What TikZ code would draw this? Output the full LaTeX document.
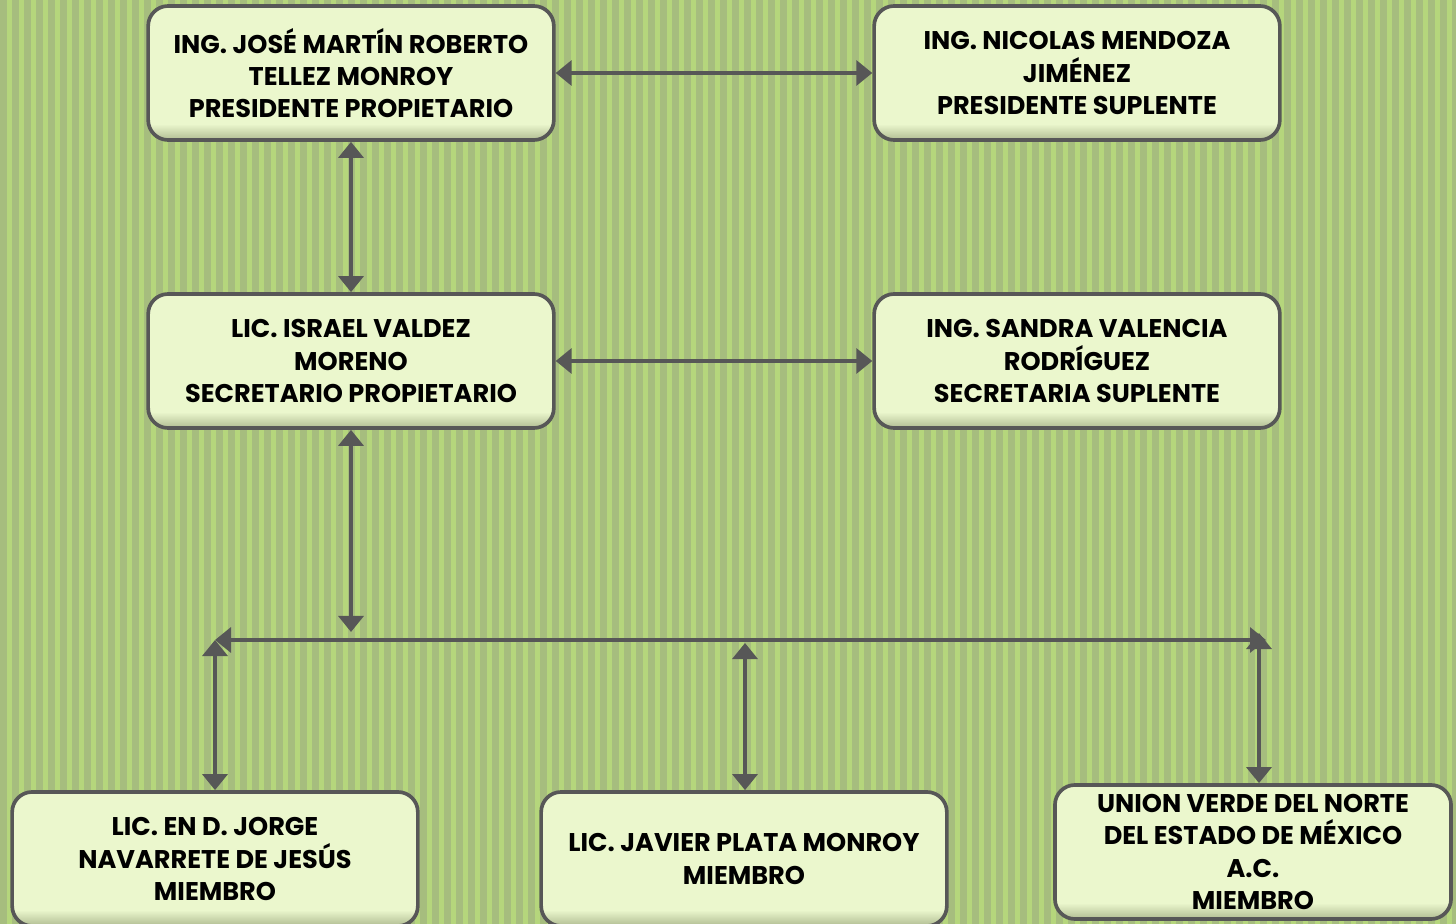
\documentclass[tikz,border=0pt]{standalone}
\usepackage{fontspec}
\setmainfont{Poppins}
\usepackage{xcolor}
\usetikzlibrary{arrows.meta,
	positioning}

\definecolor{fondoclaro}{RGB}{181,214,124}
\definecolor{fondoosc}{RGB}{166,189,126}
\definecolor{cajafill}{RGB}{235,247,205}
\definecolor{cajasombra}{RGB}{176,188,146}
\definecolor{linea}{RGB}{87,87,87}

\pgfdeclareverticalshading{cajashade}{100bp}{color(0bp)=(cajasombra); color(25bp)=(cajasombra); color(31bp)=(cajafill); color(100bp)=(cajafill)}

\tikzset{
	cargo/.style={draw=linea, line width=2.6pt, rounded corners=0.5cm,
		shade, shading=cajashade, minimum width=10.14cm, minimum height=3.35cm,
		align=center, text=black, font=\bfseries\fontsize{18.2}{22.8}\selectfont},
	enlace/.style={draw=linea, line width=3.2pt,
		{Triangle[length=0.4cm,width=0.62cm]}-{Triangle[length=0.4cm,width=0.62cm]}}
}

\begin{document}
\begin{tikzpicture}[x=0.025cm, y=-0.025cm]
        \useasboundingbox (0,0) rectangle (1456,924);

        %fondo rayado
        \fill[fondoclaro] (0,0) rectangle (1456,924);
        \foreach \i in {0,12,...,1452}
            \fill[fondoosc] (\i,0) rectangle ++(6.5,924);

        %presidentes
        \node[cargo] (presP) at (351,73) {ING. JOSÉ MARTÍN ROBERTO\\TELLEZ MONROY\\PRESIDENTE PROPIETARIO};
        \node[cargo] (presS) at (1077,73) {ING. NICOLAS MENDOZA\\JIMÉNEZ\\PRESIDENTE SUPLENTE};

        %secretarios
        \node[cargo] (secP) at (351,361) {LIC. ISRAEL VALDEZ\\MORENO\\SECRETARIO PROPIETARIO};
        \node[cargo] (secS) at (1077,361) {ING. SANDRA VALENCIA\\RODRÍGUEZ\\SECRETARIA SUPLENTE};

        %miembros
        \node[cargo] (miem1) at (215,859) {LIC. EN D. JORGE\\NAVARRETE DE JESÚS\\MIEMBRO};
        \node[cargo] (miem2) at (744,859) {LIC. JAVIER PLATA MONROY\\MIEMBRO};
        \node[cargo, minimum width=9.9cm] (miem3) at (1253,852) {UNION VERDE DEL NORTE\\DEL ESTADO DE MÉXICO\\A.C.\\MIEMBRO};

        \coordinate (busL) at (215,640);
        \coordinate (busR) at (1266,640);
        \coordinate (bajaSec) at (351,632);
        \coordinate (subeM2) at (745,643);
        \coordinate (subeM3) at (1259,633);

        \draw[enlace] (presP) -- (presS);
        \draw[enlace] (presP) -- (secP);
        \draw[enlace] (secP) -- (secS);
        \draw[enlace] (secP) -- (bajaSec);

        %bus de miembros
        \draw[enlace] (busL) -- (busR);
        \draw[enlace] (busL) -- (busL |- miem1.north);
        \draw[enlace] (subeM2) -- (subeM2 |- miem2.north);
        \draw[enlace] (subeM3) -- (subeM3 |- miem3.north);

    \end{tikzpicture}
\end{document}
